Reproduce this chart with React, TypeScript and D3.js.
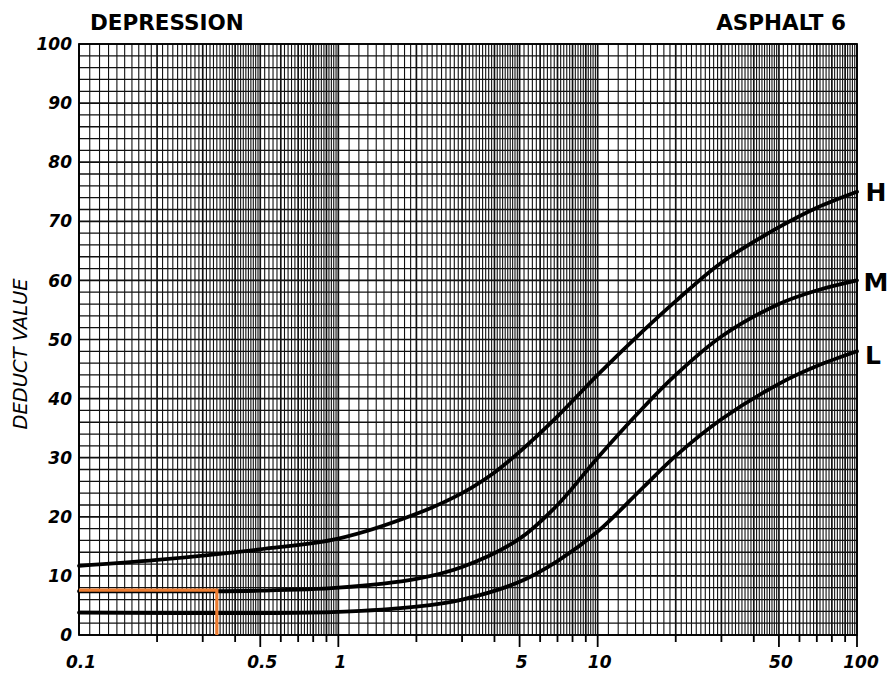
import React from "react";
import * as d3 from "d3";

// ---- data ----
const hX = [0.1, 0.2, 0.5, 1, 2, 3, 4, 5, 7, 10, 15, 20, 30, 50, 70, 100];
const hY = [11.7, 12.7, 14.5, 16.3, 20.5, 24, 27.5, 31, 37, 44, 51.5, 56.5, 63, 69, 72.3, 75];
const mX = [0.1, 0.5, 1, 2, 3, 5, 7, 10, 15, 20, 30, 50, 70, 100];
const mY = [7.4, 7.5, 8, 9.5, 11.5, 16.3, 22, 30, 38.5, 44, 50.5, 56, 58.3, 60];
const lX = [0.1, 0.5, 1, 2, 3, 5, 7, 10, 15, 20, 30, 50, 70, 100];
const lY = [3.8, 3.7, 3.9, 4.8, 6, 9, 12.5, 17.5, 25, 30.3, 36.5, 42.5, 45.5, 48];
const curveNames = ["H", "M", "L"];
const xTickLabels = [0.1, 0.5, 1, 5, 10, 50, 100];
const xTickLabelText = ["0.1", "0.5", "1", "5", "10", "50", "100"];
const yTickLabels = [0, 10, 20, 30, 40, 50, 60, 70, 80, 90, 100];
const exampleDensity = 0.34;
const exampleDeduct = 7.6;

export default function App() {
  const W = 889, H = 677;
  const x = d3.scaleLog().domain([0.1, 100]).range([79, 857]);
  const y = d3.scaleLinear().domain([0, 100]).range([635, 44]);

  // semi-log grid lines
  const vLines: { v: number; major: boolean }[] = [];
  [0.1, 1, 10].forEach((d) => {
    for (let i = 10; i < 20; i++) vLines.push({ v: (i / 10) * d, major: i % 10 === 0 });
    for (let i = 20; i < 50; i++) vLines.push({ v: (i / 10) * d, major: i % 10 === 0 });
    for (let i = 50; i < 100; i += 2) vLines.push({ v: (i / 10) * d, major: i % 10 === 0 });
  });
  vLines.push({ v: 100, major: true });
  const hLines = d3.range(0, 101, 2);

  const ticks: { v: number; long: boolean }[] = [];
  [0.1, 1, 10].forEach((d) => {
    for (let k = 2; k <= 10; k++) ticks.push({ v: k * d, long: k === 5 || k === 10 });
  });

  const line = d3
    .line<[number, number]>()
    .x((p) => x(p[0]))
    .y((p) => y(p[1]))
    .curve(d3.curveCatmullRom.alpha(0.5));

  const series = [
    { xs: hX, ys: hY },
    { xs: mX, ys: mY },
    { xs: lX, ys: lY },
  ];

  const font = "'DejaVu Sans', sans-serif";
  const labelDy = [0, 2, 4];

  return (
    <svg
      width={W}
      height={H}
      style={{ position: "absolute", left: 0, top: 0, background: "#fff" }}
    >
      <rect x={0} y={0} width={W} height={H} fill="#fff" />
      {/* grid */}
      <g>
        {vLines.map((l, i) => (
          <line
            key={"v" + i}
            x1={x(l.v)}
            x2={x(l.v)}
            y1={y(100)}
            y2={y(0)}
            stroke="#111"
            strokeWidth={l.major ? 1.7 : 1.1}
          />
        ))}
        {hLines.map((v) => (
          <line
            key={"h" + v}
            x1={x(0.1)}
            x2={x(100)}
            y1={y(v)}
            y2={y(v)}
            stroke="#111"
            strokeWidth={v % 10 === 0 ? 1.7 : 1.3}
          />
        ))}
        <rect
          x={x(0.1)}
          y={y(100)}
          width={x(100) - x(0.1)}
          height={y(0) - y(100)}
          fill="none"
          stroke="#000"
          strokeWidth={1.8}
        />
      </g>
      {/* bottom ticks */}
      {ticks.map((t, i) => (
        <line
          key={"t" + i}
          x1={x(t.v)}
          x2={x(t.v)}
          y1={y(0)}
          y2={y(0) + (t.long ? 12 : 7)}
          stroke="#000"
          strokeWidth={1.8}
        />
      ))}
      {/* curves */}
      {series.map((s, i) => (
        <path
          key={"c" + i}
          d={line(s.xs.map((v, j) => [v, s.ys[j]] as [number, number])) || ""}
          fill="none"
          stroke="#000"
          strokeWidth={3.8}
          strokeLinecap="round"
        />
      ))}
      {/* example reading */}
      <path
        d={`M${x(0.1)},${y(exampleDeduct)}H${x(exampleDensity)}V${y(0)}`}
        fill="none"
        stroke="#ED7D31"
        strokeWidth={3.2}
      />
      {/* curve labels */}
      {series.map((s, i) => (
        <text
          key={"n" + i}
          x={x(100) + (curveNames[i] === "L" ? 16 : 19)}
          y={y(s.ys[s.ys.length - 1]) + labelDy[i]}
          dy="0.36em"
          textAnchor="middle"
          fontFamily={font}
          fontWeight="bold"
          fontSize={25}
          fill="#000"
        >
          {curveNames[i]}
        </text>
      ))}
      {/* y labels */}
      {yTickLabels.map((v) => (
        <text
          key={"yl" + v}
          x={72}
          y={y(v)}
          dy="0.36em"
          textAnchor="end"
          fontFamily={font}
          fontWeight="bold"
          fontStyle="italic"
          fontSize={17}
          fill="#000"
        >
          {v}
        </text>
      ))}
      {/* x labels */}
      {xTickLabels.map((v, i) => (
        <text
          key={"xl" + i}
          x={x(v) + (v === 100 ? 4 : 2)}
          y={668}
          textAnchor="middle"
          fontFamily={font}
          fontWeight="bold"
          fontStyle="italic"
          fontSize={17}
          fill="#000"
        >
          {xTickLabelText[i]}
        </text>
      ))}
      {/* titles */}
      <text x={90} y={30} fontFamily={font} fontWeight="bold" fontSize={21.5} fill="#000">
        DEPRESSION
      </text>
      <text x={846} y={30} textAnchor="end" fontFamily={font} fontWeight="bold" fontSize={21.5} fill="#000">
        ASPHALT 6
      </text>
      <text
        transform={`translate(27,354) rotate(-90)`}
        textAnchor="middle"
        fontFamily={font}
        fontStyle="italic"
        fontSize={19.5}
        fill="#000"
      >
        DEDUCT VALUE
      </text>
    </svg>
  );
}
